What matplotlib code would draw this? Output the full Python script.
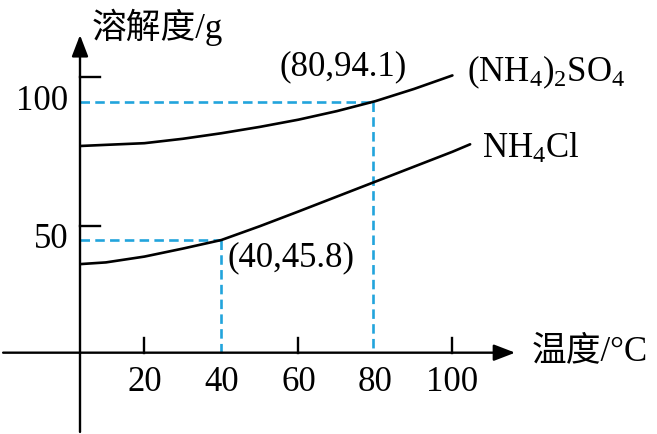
import numpy as np
import matplotlib
matplotlib.use("Agg")
import matplotlib.pyplot as plt

# fonts: serif digits, CJK falls back to Noto
plt.rcParams['font.family'] = ['Liberation Serif', 'Noto Sans CJK SC']
plt.rcParams['mathtext.fontset'] = 'custom'
plt.rcParams['mathtext.rm'] = 'Liberation Serif'
plt.rcParams['mathtext.it'] = 'Liberation Serif:italic'
size = 25

# data
temp = [3.5, 10, 20, 30, 40, 50, 60, 70, 80, 90, 100]
sulfate = [84.0, 84.4, 85.0, 86.6, 88.6, 90.9, 93.5, 96.6, 100.2, 104.6, 109.5]
temp_cl = [3.5, 10, 20, 30, 40, 50, 60, 70, 80, 90, 100, 104.6]
chloride = [41.3, 41.9, 44.0, 46.9, 50.0, 55.0, 60.3, 65.7, 71.1, 76.5, 81.9, 84.6]

xticks = [20, 40, 60, 80, 100]
xtick_marks = [20, 60, 100]
yticks = [50, 100]
ytick_marks = [55.2, 109.0]
pts = [(40, 50, '(40,45.8)'), (79.5, 100, '(80,94.1)')]

x0, y0 = 3.27, 9.26     # where the drawn axes cross
blue = '#22a4dc'

fig = plt.figure(figsize=(6.57, 4.34), dpi=100)
ax = fig.add_axes([0, 0, 1, 1])
ax.set_xlim(-17.51, 153.14)
ax.set_ylim(-20.14, 136.77)
ax.axis('off')

# dashed guide lines
for px, py, lab in pts:
    ax.plot([x0, px], [py, py], color=blue, lw=1.9, dashes=(3.6, 2.0))
    ax.plot([px, px], [py, y0], color=blue, lw=1.9, dashes=(3.6, 2.0))

# curves
ax.plot(temp, sulfate, color='black', lw=1.9, solid_capstyle='round')
ax.plot(temp_cl, chloride, color='black', lw=1.9, solid_capstyle='round')

# axes with arrows
arr = dict(arrowstyle='-|>,head_length=0.65,head_width=0.25', mutation_scale=20,
           lw=1.7, color='black', shrinkA=0, shrinkB=0)
ax.annotate('', xy=(116.3, y0), xytext=(-16.7, y0), arrowprops=arr)
ax.annotate('', xy=(x0, 124.1), xytext=(x0, -19.4), arrowprops=arr)

for t in xtick_marks:
    ax.plot([t, t], [y0, y0 + 5.4], color='black', lw=1.7)
for t in ytick_marks:
    ax.plot([x0, x0 + 5.2], [t, t], color='black', lw=1.7)

for t in xticks:
    ax.text(t, -1.7, str(t), ha='center', va='center', fontsize=size)
for t in yticks:
    ax.text(0.3, t, str(t), ha='right', va='center', fontsize=size)

ax.text(6.4, 127.0, '溶解度/g', ha='left', va='center', fontsize=size)
ax.text(120.7, 9.6, '温度/°C', ha='left', va='center', fontsize=size)

ax.text(71.7, 112.5, pts[1][2], ha='center', va='center', fontsize=size)
ax.text(41.5, 43.5, pts[0][2], ha='left', va='center', fontsize=size)
ax.text(103.8, 110.5, r'(NH$_4$)$_2$SO$_4$', ha='left', va='center', fontsize=size)
ax.text(107.7, 83.0, r'NH$_4$Cl', ha='left', va='center', fontsize=size)

plt.savefig('out.png', dpi=100)
